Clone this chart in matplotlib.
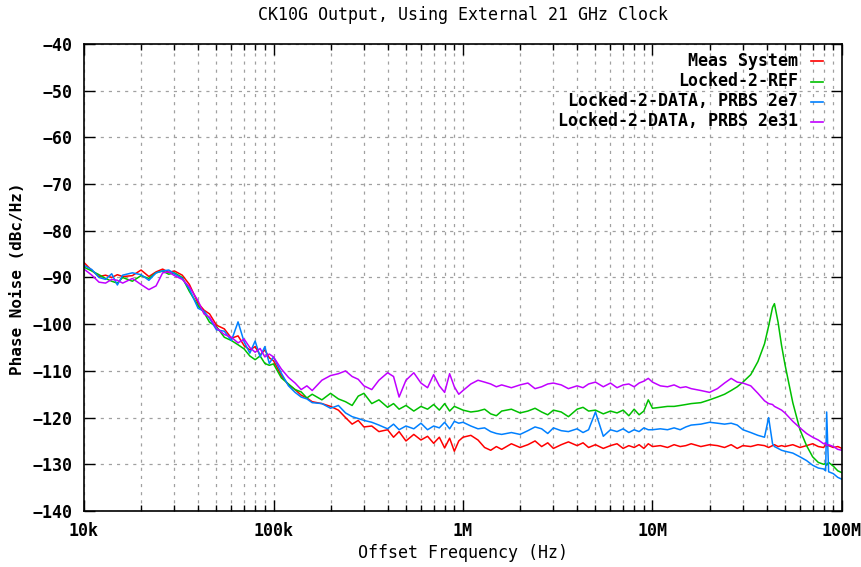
import matplotlib
matplotlib.use('Agg')
import matplotlib.pyplot as plt
from matplotlib.ticker import FixedLocator, NullFormatter

# offset frequency grid (Hz), one list per decade
freq = ([10e3, 11e3, 12e3, 13e3, 14e3, 15e3, 16e3, 18e3, 20e3, 22e3, 24e3, 26e3, 28e3, 30e3, 33e3,
         36e3, 40e3, 43e3, 46e3, 50e3, 55e3, 60e3, 65e3, 70e3, 75e3, 80e3, 85e3, 90e3, 95e3]
        + [100e3, 110e3, 120e3, 130e3, 140e3, 150e3, 160e3, 180e3, 200e3, 220e3, 240e3, 260e3, 280e3, 300e3, 330e3,
           360e3, 400e3, 430e3, 460e3, 500e3, 550e3, 600e3, 650e3, 700e3, 750e3, 800e3, 850e3, 900e3, 950e3]
        + [1.0e6, 1.1e6, 1.2e6, 1.3e6, 1.4e6, 1.5e6, 1.6e6, 1.8e6, 2.0e6, 2.2e6, 2.4e6, 2.6e6, 2.8e6, 3.0e6, 3.3e6,
           3.6e6, 4.0e6, 4.3e6, 4.6e6, 5.0e6, 5.5e6, 6.0e6, 6.5e6, 7.0e6, 7.5e6, 8.0e6, 8.5e6, 9.0e6, 9.5e6]
        + [10e6, 11e6, 12e6, 13e6, 14e6, 15e6, 16e6, 18e6, 20e6, 22e6, 24e6, 26e6, 28e6, 30e6, 33e6, 36e6, 39e6,
           41e6, 43e6, 44e6, 46e6, 48e6, 50e6, 55e6, 60e6, 65e6, 70e6, 75e6, 80e6, 82e6, 83e6, 85e6, 90e6, 95e6, 100e6])

meas_system = ([-86.8, -88.5, -89.8, -89.5, -90.0, -89.4, -89.8, -89.6, -88.4, -89.8, -88.8, -88.2, -88.9, -88.6, -89.5,
                -91.5, -95.5, -97.0, -97.8, -100.2, -101.0, -103.0, -102.5, -104.6, -105.5, -104.8, -106.6, -105.5, -107.2]
               + [-107.8, -111.0, -113.0, -114.0, -115.2, -115.8, -116.6, -117.0, -117.6, -118.4, -120.0, -121.4, -120.6, -122.0, -121.8,
                  -123.0, -122.6, -124.2, -123.0, -125.0, -123.6, -124.8, -124.0, -125.5, -124.2, -126.5, -124.4, -127.2, -125.0]
               + [-124.2, -123.8, -124.8, -126.4, -127.0, -126.2, -126.8, -125.6, -126.4, -125.8, -125.0, -126.2, -125.4, -126.6, -125.8,
                  -125.2, -126.0, -125.4, -126.4, -125.8, -126.6, -126.0, -125.6, -126.6, -126.0, -126.4, -125.8, -126.6, -125.6]
               + [-126.2, -126.0, -126.4, -125.8, -126.2, -126.0, -125.6, -126.2, -125.8, -126.0, -126.4, -125.8, -126.6, -126.0, -126.2,
                  -125.8, -126.0, -126.4, -126.0, -125.8, -126.2, -126.0, -126.2, -125.8, -126.4, -126.0, -125.6, -126.2, -126.4, -125.8,
                  -126.2, -126.0, -126.4, -126.2, -126.6])

locked_ref = ([-87.8, -88.6, -89.4, -90.2, -90.8, -91.2, -90.0, -90.8, -89.6, -90.2, -89.0, -88.6, -89.3, -89.0, -90.0,
               -93.0, -96.0, -97.5, -99.6, -100.5, -102.8, -103.5, -104.4, -105.3, -106.8, -107.6, -106.8, -108.4, -108.8]
              + [-108.5, -111.5, -112.8, -114.0, -114.5, -115.8, -115.0, -116.2, -114.8, -116.0, -116.6, -117.4, -115.4, -114.8, -117.0,
                 -116.2, -117.8, -117.0, -118.2, -117.4, -118.6, -117.6, -118.2, -117.2, -118.4, -117.0, -118.6, -117.6, -118.0]
              + [-118.4, -118.8, -118.6, -118.2, -119.2, -119.6, -118.6, -118.2, -119.0, -118.6, -118.0, -118.8, -119.4, -118.4, -118.8,
                 -119.8, -118.2, -117.8, -118.6, -118.4, -119.2, -118.6, -119.0, -118.4, -119.6, -118.2, -119.4, -118.6, -116.2]
              + [-118.0, -117.8, -117.6, -117.6, -117.4, -117.2, -117.0, -116.8, -116.2, -115.6, -115.0, -114.2, -113.4, -112.4, -110.8,
                 -108.0, -104.2, -100.4, -96.4, -95.6, -99.6, -104.6, -108.6, -116.8, -122.6, -126.0, -128.4, -129.6, -130.0, -129.8,
                 -130.2, -129.6, -130.4, -131.4, -131.8])

locked_data_2e7 = ([-87.4, -88.3, -90.0, -90.4, -89.2, -91.6, -89.5, -89.0, -89.4, -90.6, -89.0, -88.6, -88.4, -89.2, -90.2,
                    -92.5, -96.6, -97.2, -98.8, -101.2, -101.5, -103.5, -99.5, -103.8, -106.2, -103.6, -107.0, -104.8, -108.4]
                   + [-107.0, -110.5, -113.2, -114.6, -115.6, -116.0, -116.8, -117.0, -118.0, -117.4, -119.0, -119.8, -120.2, -120.6, -121.0,
                      -121.6, -122.4, -121.4, -122.6, -121.8, -122.4, -121.2, -122.6, -121.8, -122.2, -121.0, -122.4, -120.8, -121.2]
                   + [-121.0, -121.8, -122.4, -122.2, -123.0, -123.4, -123.6, -123.2, -123.6, -122.8, -122.0, -122.4, -123.4, -122.2, -122.8,
                      -123.0, -122.4, -123.2, -122.6, -118.8, -124.0, -122.6, -123.0, -122.4, -123.2, -122.6, -123.0, -122.2, -122.6]
                   + [-122.6, -122.4, -122.6, -122.2, -122.6, -122.0, -121.6, -121.4, -121.0, -121.2, -121.4, -121.2, -121.6, -122.6, -123.2,
                      -123.8, -124.2, -120.0, -125.6, -126.2, -126.6, -127.0, -127.2, -127.6, -128.4, -129.2, -130.2, -130.8, -131.0, -131.4,
                      -118.8, -131.6, -132.0, -132.8, -133.2])

locked_data_2e31 = ([-88.2, -89.5, -91.0, -91.2, -90.4, -90.6, -91.2, -90.2, -91.5, -92.6, -91.8, -89.0, -88.8, -89.6, -90.4,
                     -92.0, -95.0, -97.8, -98.5, -100.8, -102.2, -102.8, -104.0, -103.2, -105.0, -106.0, -105.2, -107.0, -106.4]
                    + [-107.0, -109.6, -111.4, -112.6, -114.0, -113.2, -114.2, -112.0, -111.0, -110.6, -110.0, -111.2, -111.8, -113.2, -114.0,
                       -112.0, -110.4, -111.2, -115.6, -112.0, -110.4, -112.6, -113.6, -110.8, -113.2, -114.6, -110.6, -113.4, -115.0]
                    + [-114.2, -112.8, -112.0, -112.4, -112.8, -113.4, -113.0, -113.6, -113.0, -112.6, -113.8, -113.4, -112.8, -112.6, -113.0,
                       -113.8, -113.2, -113.6, -112.8, -112.4, -113.4, -112.6, -113.6, -113.0, -112.8, -113.4, -112.6, -112.2, -111.6]
                    + [-112.4, -113.2, -113.4, -113.0, -113.6, -113.4, -113.8, -114.2, -114.6, -113.8, -112.6, -111.6, -112.4, -112.6, -113.2,
                       -114.8, -116.4, -117.0, -117.2, -117.6, -118.0, -118.4, -119.0, -120.8, -122.2, -123.4, -124.2, -124.8, -125.6, -125.4,
                       -126.0, -125.8, -126.2, -126.8, -127.0])

series = [('Meas System', meas_system, '#ff0000'),
          ('Locked-2-REF', locked_ref, '#00c000'),
          ('Locked-2-DATA, PRBS 2e7', locked_data_2e7, '#0080ff'),
          ('Locked-2-DATA, PRBS 2e31', locked_data_2e31, '#c000ff')]

xtick_pos = [1e4, 1e5, 1e6, 1e7, 1e8]
xtick_labels = ['10k', '100k', '1M', '10M', '100M']
yticks = [-140, -130, -120, -110, -100, -90, -80, -70, -60, -50, -40]

mono = 'DejaVu Sans Mono'
W, H = 862, 567
L, R, T, B = 84, 842, 44, 511
fig = plt.figure(figsize=(W / 100, H / 100), dpi=100)
ax = fig.add_axes([L / W, 1 - B / H, (R - L) / W, (B - T) / H])

for name, vals, col in series:
    ax.plot(freq, vals, color=col, lw=1.1)

ax.set_xscale('log')
ax.set_xlim(1e4, 1e8)
ax.set_ylim(-140, -40)

minors = [m * 10 ** d for d in range(4, 8) for m in range(2, 10)]
ax.xaxis.set_major_locator(FixedLocator(xtick_pos))
ax.xaxis.set_minor_locator(FixedLocator(minors))
ax.xaxis.set_minor_formatter(NullFormatter())
ax.set_xticks(xtick_pos, xtick_labels)
ax.set_yticks(yticks)

gkw = dict(color='#a0a0a0', lw=0.9, ls=(0, (2.5, 4)))
ax.grid(True, which='major', **gkw)
ax.grid(True, which='minor', axis='x', **gkw)
ax.set_axisbelow(True)

ax.tick_params(which='both', direction='in', top=True, right=True, width=1.0)
ax.tick_params(which='major', length=8)
ax.tick_params(which='minor', length=4)
ax.tick_params(axis='y', which='major', pad=8)
ax.tick_params(axis='x', which='major', pad=8)
for lab in ax.get_xticklabels() + ax.get_yticklabels():
    lab.set_family(mono)
    lab.set_fontweight('bold')
    lab.set_fontsize(12)
for s in ax.spines.values():
    s.set_linewidth(1.2)

# title / axis labels placed like the gnuplot original
fig.text((L + R) / 2 / W, 1 - 15 / H, 'CK10G Output, Using External 21 GHz Clock',
         family=mono, fontsize=12, ha='center', va='center')
fig.text((L + R) / 2 / W, 1 - 553 / H, 'Offset Frequency (Hz)',
         family=mono, fontsize=12, ha='center', va='center')
fig.text(18 / W, 1 - 279 / H, 'Phase Noise (dBc/Hz)', family=mono, fontweight='bold',
         fontsize=11.5, ha='center', va='center', rotation=90)

# legend: right-aligned text with a short line sample after it (gnuplot style)
row_y = [61, 81.5, 101.5, 121.5]
for (name, vals, col), yp in zip(series, row_y):
    ya = (B - yp) / (B - T)
    ax.text((798 - L) / (R - L), ya, name, transform=ax.transAxes, family=mono,
            fontweight='bold', fontsize=12, ha='right', va='center')
    ax.plot([(811 - L) / (R - L), (823 - L) / (R - L)], [ya, ya], color=col, lw=1.2,
            transform=ax.transAxes, clip_on=False)

fig.savefig('out.png', dpi=100)
